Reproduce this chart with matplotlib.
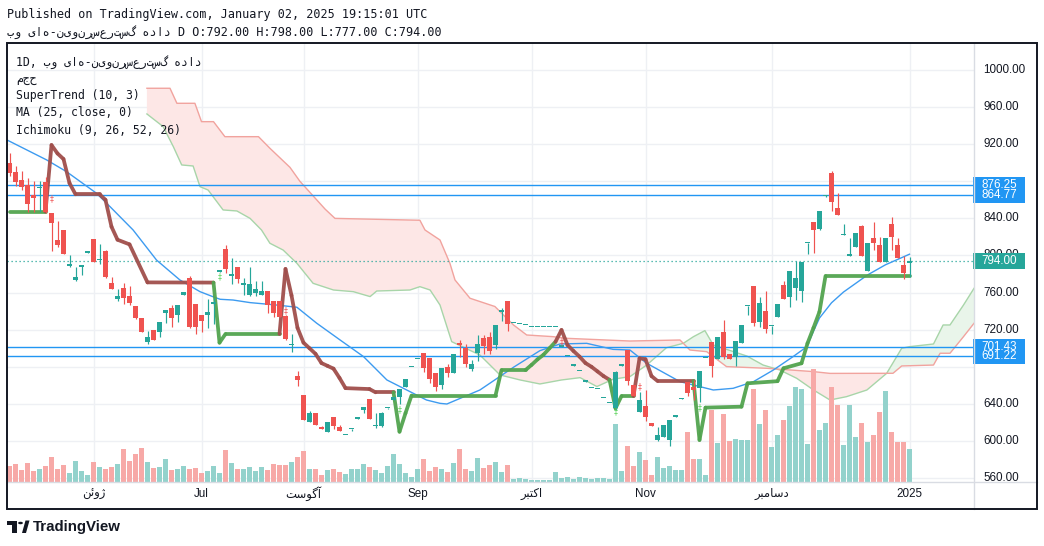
import numpy as np
import matplotlib
matplotlib.use("Agg")
import matplotlib.pyplot as plt
from matplotlib.patches import Rectangle, Circle, Polygon
from matplotlib.collections import LineCollection
import matplotlib.transforms as mtransforms

# ---------------- data ----------------
opens = [900, 890, 881, 876, 865, 872.5, 879, 846, 817, 828,
         789, 773.3, 788, 803, 818, 795, 805, 770, 752.8, 765,
         756.3, 746, 732.3, 707.2, 719.7, 717, 737.7, 743, 735.8, 757,
         775.4, 747.7, 736, 736, 748, 782.5, 807, 777.6, 787.3, 768,
         757, 759.3, 757.2, 761.3, 751, 751, 734.8, 703.5, 670.5, 649.6,
         620.9, 630.2, 615.1, 610.1, 625.6, 615.1, 606, 612.5, 624, 633.9,
         645, 616.2, 616.6, 635.3, 644.2, 647.9, 658.7, 679.8, 688.4, 694.9,
         689.3, 673.1, 660.4, 679.8, 673.7, 706, 700.3, 677.3, 695.3, 711.1,
         712.1, 703.9, 738.8, 750.9, 726.8, 725.7, 725, 722.6, 722.6, 722.6,
         722.6, 722.6, 701.7, 691.5, 681.3, 675, 664, 657, 655.7, 646,
         640.8, 635.3, 681.3, 698, 660.4, 631.6, 637.7, 619.4, 601.1, 604.7,
         601.1, 626.3, 645.3, 664, 657.9, 657.5, 689.3, 706.4, 688.4, 717.2,
         693.8, 690.3, 706, 745.6, 767.1, 728, 740.2, 724, 734, 768,
         755.7, 765.4, 761.7, 813, 836.1, 828.6, 864, 889.4, 851.6, 822.1,
         799.8, 809.6, 831.8, 783.7, 819.3, 811.3, 793.4, 834, 811.3, 789.8,
         792]
closes = [889, 879, 874, 855, 862, 874, 846.5, 835.5, 811, 802,
          789.5, 776.8, 788.5, 803.5, 793.4, 795.5, 777, 764.4, 756.3, 754.6,
          749.2, 732.3, 718, 711.8, 709, 728.7, 741, 732.3, 746.6, 760.4,
          723.2, 723.2, 729.8, 739.5, 749, 783.5, 785, 780, 774.7, 770,
          769, 763.5, 761.7, 746.3, 738.4, 734, 710.4, 704.3, 666.2, 622.6,
          630.6, 617.3, 613.3, 620.1, 616.3, 611.2, 606.5, 613, 624.5, 636.7,
          623.7, 616.8, 630.2, 635.8, 647.9, 656, 667, 680.3, 688.9, 678.4,
          667.3, 658.7, 679, 673.7, 693.8, 703.2, 683.4, 683, 704.3, 702.8,
          697, 725.1, 741.2, 725.7, 727, 725.9, 725.2, 722.8, 722.8, 722.8,
          722.8, 722.8, 702.8, 691.7, 681.5, 675.2, 664.2, 657.2, 655.9, 646.2,
          641, 674.5, 681.5, 664.7, 648.9, 644.2, 626.3, 616.6, 606.5, 617.3,
          622.6, 626.8, 645.8, 652.2, 655, 675.5, 689.8, 681.3, 711.8, 691,
          688, 707.5, 725.1, 746, 727.6, 748.5, 720.8, 724.5, 747.3, 753,
          783.3, 776.2, 793.4, 813.5, 827.5, 848, 864.5, 857.8, 843.7, 822.6,
          800.3, 824.7, 799.8, 813.9, 813.9, 793.4, 819.3, 820.3, 797.7, 780.8,
          794]
highs = [911, 896, 891, 884, 880, 880, 885, 846, 837, 828,
         800.5, 788, 788.5, 804, 818, 812.4, 806, 777, 764, 770,
         767, 746, 732.3, 718.9, 720, 728.7, 741, 746.6, 746.6, 760.4,
         778, 747.7, 736, 753, 753.7, 784, 811.3, 797, 787.3, 776,
         788, 773, 772, 761.3, 751, 751, 736, 715, 675.9, 649.6,
         632, 630.2, 616.5, 620.1, 625.6, 617, 606.5, 613, 624.5, 636.7,
         645, 630, 631.5, 636, 647.9, 656, 667, 680.3, 688.9, 694.9,
         689.3, 673.1, 679, 682.7, 693.8, 708.9, 704.6, 687.3, 714.3, 714.3,
         717.9, 725.1, 743, 750.9, 727, 725.9, 725.2, 722.8, 722.8, 722.8,
         722.8, 722.8, 704, 691.7, 681.5, 675.2, 664.2, 657.2, 655.9, 646.2,
         641, 675, 681.5, 698, 660.4, 653.3, 655, 619.4, 615.4, 617.3,
         622.6, 628, 646, 664, 666, 675.5, 689.8, 706.4, 711.8, 730.5,
         693.8, 707.5, 725.1, 746, 767.1, 755.7, 761.7, 724.5, 747.3, 772,
         783.3, 794, 793.4, 813.5, 836.1, 848, 865, 891, 867, 834,
         818.6, 824.7, 833, 813.9, 836.6, 820.3, 819.3, 841.9, 819.3, 799.8,
         798]
lows = [885.7, 875, 870.6, 847.3, 847.3, 847.3, 845.5, 805, 809.6, 802,
        788, 773, 779, 803, 793, 790.6, 776, 764, 750.7, 747.4,
        746.6, 732, 718, 704.6, 709, 712.5, 727, 723.3, 728.7, 757,
        721.5, 715, 717.9, 722, 725.8, 782, 781.5, 769.3, 770, 757.5,
        756, 756.3, 757.1, 738.4, 734, 734, 709, 695.6, 659.7, 622.6,
        620, 617.3, 613.3, 610, 612.9, 611.2, 606, 611, 624, 629.9,
        623.7, 614.5, 615.5, 635, 644, 639.9, 658.7, 679.8, 688.4, 674.1,
        662.9, 654.3, 656, 669, 673.7, 691, 679.5, 675.8, 686.6, 693.8,
        693.8, 699.2, 729.7, 719, 726.8, 725.7, 725, 722.6, 722.6, 722.6,
        722.6, 722.6, 701.7, 691.5, 681.3, 675, 664, 657, 655.7, 646,
        640.8, 633, 681.3, 660.4, 648.9, 631.6, 622, 616.6, 600.4, 604.7,
        594.9, 626, 645, 648.9, 644.2, 642.5, 689.3, 669.4, 688.4, 688.4,
        688, 681.3, 706, 735.9, 724.4, 723.2, 716.1, 715.4, 734, 753,
        744.8, 752, 750.3, 801.3, 803, 827.5, 863, 848.4, 843.7, 822,
        799.5, 809.6, 799.8, 783.7, 805.9, 793.4, 793.4, 805.9, 797.7, 774.7,
        777]
volumes = [42, 48, 30, 51, 27, 33, 42, 69, 33, 45, 21, 57, 27, 15, 54, 39, 33, 39, 48, 93,
           57, 78, 96, 54, 36, 39, 63, 30, 33, 42, 33, 36, 21, 27, 42, 21, 90,
           51, 33, 33, 39, 27, 39, 30, 48, 45, 45, 54, 69, 87, 33, 33, 15, 30, 33, 24, 18,
           33, 33, 48, 39, 30, 21, 42, 78, 48, 21, 9, 33, 63, 27, 39, 33, 24,
           50, 93, 33, 27, 66, 36, 45, 54, 24, 45, 3, 6, 3, 1, 1, 1, 1, 24, 6, 9,
           3, 9, 6, 3, 6, 6, 3, 168, 27, 102, 42, 84, 60, 15, 69, 36, 42, 30,
           30, 144, 63, 63, 15, 210, 111, 198, 117, 123, 120, 120, 273, 168, 210, 99,
           135, 180, 222, 279, 273, 108, 333, 150, 171, 279, 225, 105, 225, 129, 171,
           114, 135, 204, 267, 144, 114, 114, 93]

# SuperTrend (10, 3) vertices (bar index, value) and down-trend bar ranges
st_idx = [0, 6, 7, 8, 9, 10, 11, 15, 16, 17, 18, 20, 23, 34, 35, 36, 45, 46, 47, 48,
          49, 50, 51, 52, 53, 54, 55, 56, 60, 61, 64, 65, 66, 67, 81, 82, 86, 87, 88, 89,
          90, 91, 92, 93, 94, 95, 96, 97, 98, 99, 100, 101, 102, 104, 105, 106, 107, 108,
          114, 115, 116, 122, 123, 128, 129, 132, 133, 134, 135, 136, 150]
st_val = [847.3, 847.3, 919.1, 910, 904, 878, 866, 866, 860, 831, 817, 812, 771, 770.8,
          706, 715.4, 715.4, 785.5, 757, 722, 706, 700, 694, 684, 681, 678, 668, 657,
          656, 652.5, 652.5, 610, 630, 649, 649, 676.5, 676.5, 682, 688, 693, 700, 707,
          719.7, 703.5, 697, 691, 684, 680, 675, 670, 666, 635.3, 648.5, 648.5, 689.2,
          688.2, 670, 664.7, 664.7, 601.1, 636, 637, 662.2, 664.5, 678.4, 683.8, 705.3,
          722, 739.4, 777.9, 777.9]
st_down = [(7, 34), (46, 64), (92, 100), (105, 114)]
# SuperTrend buy/sell signal marks (bar index, price, kind)
sig_idx = [7, 35, 46, 65, 92, 101, 105, 115]
sig_val = [861.7, 777.3, 740.2, 633.4, 707.2, 631.7, 658.6, 636.0]
sig_kind = ["sell", "buy", "sell", "buy", "sell", "buy", "sell", "buy"]

# MA (25, close) vertices
ma_idx = [-0.4, 6.2, 9.5, 14.5, 16.75, 20.6, 24.5, 28.4, 31.75, 33.9, 35.1, 37.25, 40.1,
          44.5, 47.9, 51.2, 55.1, 59, 62.9, 66.2, 69.5, 71.75, 72.9, 78.4, 84, 88.4,
          91.75, 96.2, 100.6, 103.4, 106.2, 111.75, 117.3, 120.6, 124, 127.3, 130.6,
          132.9, 134, 135, 137, 139, 143, 146, 150]
ma_val = [924.5, 903, 890.4, 867.1, 852.7, 827.5, 795.1, 773.6, 761, 755.6, 752.8, 752,
          749.2, 746.6, 744.2, 727, 708.9, 691, 665.8, 655, 644.2, 640.6, 639.9, 655,
          679.5, 697.4, 704.6, 705.3, 698.8, 698.1, 683.8, 664, 655, 656.8, 664, 676.5,
          691, 701.7, 718.4, 732.6, 749, 760.6, 779, 790, 801.4]

# Ichimoku (9, 26, 52, 26) leading spans (shifted bar index, value)
spanA_idx = [22.9, 25.6, 27.3, 28.7, 30.6, 31.75, 33.1, 35.6, 37.9, 40.1, 42, 43.4, 45.6,
             47.9, 50.6, 54, 57.3, 60.1, 61.2, 66.75, 68.4, 70.1, 71.75, 73.7, 78.4,
             81.75, 85.1, 88.4, 92, 95.1, 97.9, 100.6, 103.4, 106.2, 109.5, 112.3, 114,
             115.9, 117.3, 122.9, 125.6, 128.4, 131.2, 134, 136.75, 139.5, 142.9, 146.2,
             148.7, 150, 154, 155.6, 156.75, 159, 160.75]
spanA_val = [952.6, 939, 917.4, 897.6, 896.5, 874.2, 870.6, 849.1, 848, 840, 827.5, 813.2,
             805.9, 791.6, 770, 762.8, 761, 755.7, 761.7, 762.8, 766.4, 762.8, 746.6,
             707.1, 692.7, 671.2, 665.8, 661.5, 665.8, 668.3, 658.7, 666.6, 669.4, 681.9,
             700.6, 705.3, 712.5, 719, 703.5, 691.6, 681.9, 676.5, 667.6, 655, 644.2,
             647.8, 655, 673, 700, 701.7, 704.6, 725.1, 725.1, 746.6, 764.6]
spanB_idx = [22.9, 26.75, 27.9, 30.9, 32, 34, 35.9, 41.5, 43.4, 46.75, 48.4, 52.6, 54.25,
             68.4, 69.25, 71.75, 73.4, 74.25, 76.75, 80.9, 84, 86.2, 90.6, 92.9, 103.4,
             111.75, 113.4, 116.2, 119.5, 126.2, 134, 136.75, 147.25, 148.7, 154, 155.1,
             156.75, 159, 160.75]
spanB_val = [980.3, 980.3, 964.1, 964.1, 944.3, 944.3, 928.1, 928.1, 915.6, 895, 880, 850,
             840, 838, 827.5, 816.7, 791.6, 773.6, 753.9, 745, 725.1, 714.3, 712.5, 710.7,
             707.8, 708.9, 698.1, 696.3, 680.2, 678.4, 674.8, 672.9, 673, 680.9, 681.9,
             694.6, 694.6, 712.5, 726.9]

hlines = [876.25, 864.77, 701.43, 691.22]
last_price = 794.00
price_ticks = [1000, 960, 920, 840, 800, 760, 720, 640, 600, 560]
grid_prices = [560, 600, 640, 680, 720, 760, 800, 840, 880, 920, 960, 1000]
month_idx = [14, 32, 49, 68, 87, 106, 127, 150]
month_lbl = ["\uFEE6\uFE8B\uFEED\uFB8A", "Jul", "\uFE96\uFEB3\uFEEE\uFB94\uFE81", "Sep",
             "\uFEAE\uFE92\uFE98\uFB90\uFE8D", "Nov",
             "\uFEAE\uFE92\uFEE3\uFE8E\uFEB3\uFEA9", "2025"]

symbol_vis = "بو یاه-نیونرسعرتسگ هداد"
header1 = "Published on TradingView.com, January 02, 2025 19:15:01 UTC"
header2 = symbol_vis + " D O:792.00 H:798.00 L:777.00 C:794.00"
legend_lines = ["1D, " + symbol_vis, "مجح", "SuperTrend (10, 3)", "MA (25, close, 0)",
                "Ichimoku (9, 26, 52, 26)"]

# ---------------- styling ----------------
TEAL = "#26A69A"; RED = "#EF5350"
TEAL_V = "#93D2CC"; RED_V = "#F7A9A7"
BLUE = "#2196F3"; TXT = "#131722"
MONO = ["DejaVu Sans Mono", "DejaVu Sans"]
SANS = ["Liberation Sans", "DejaVu Sans"]

W, H = 1044, 546
fig = plt.figure(figsize=(W / 100, H / 100), dpi=100)
fig.patch.set_facecolor("white")

L, R, T, B = 7, 974, 43, 482
rect = [L / W, 1 - B / H, (R - L) / W, (B - T) / H]
XMIN, XMAX = -0.417, 160.75
YMIN, YMAX = 555.8, 1029.1

ax_bg = fig.add_axes(rect)
ax_vol = fig.add_axes(rect)
ax = fig.add_axes(rect)
for a in (ax_bg, ax_vol, ax):
    a.set_xlim(XMIN, XMAX)
    a.axis("off")
ax_bg.set_ylim(YMIN, YMAX)
ax.set_ylim(YMIN, YMAX)
ax_vol.set_ylim(-6, 1311)

# grid
for t in month_idx:
    ax_bg.axvline(t, color="#EEF0F4", lw=1.0, zorder=0)
for p in grid_prices:
    ax_bg.axhline(p, color="#EEF0F4", lw=1.0, zorder=0)

# Ichimoku cloud
xs = np.linspace(min(spanA_idx), XMAX + 1, 3000)
sa = np.interp(xs, spanA_idx, spanA_val)
sb = np.interp(xs, spanB_idx, spanB_val)
ax_bg.fill_between(xs, sa, sb, where=sa >= sb, interpolate=True, color="#E9F5EA", lw=0, zorder=1)
ax_bg.fill_between(xs, sa, sb, where=sa < sb, interpolate=True, color="#FDE7E6", lw=0, zorder=1)
ax_bg.plot(spanA_idx, spanA_val, color="#A8D5A9", lw=1.0, zorder=2)
ax_bg.plot(spanB_idx, spanB_val, color="#F1A39E", lw=1.0, zorder=2)

# volume
n = len(closes)
x = np.arange(n)
o = np.array(opens); c = np.array(closes); hi = np.array(highs); lo = np.array(lows)
up = c >= o
vol = np.array(volumes, dtype=float)
ax_vol.bar(x, vol + 6, bottom=-6, width=0.72, color=np.where(up, TEAL_V, RED_V), lw=0, zorder=1)

# horizontal lines
for hv in hlines:
    ax.axhline(hv, color=BLUE, lw=1.0, zorder=2)
ax.axhline(last_price, color=TEAL, lw=0.9, ls=(0, (1, 2.2)), zorder=2)

# MA
ax.plot(ma_idx, ma_val, color="#3D9BF0", lw=1.0, zorder=3)

# SuperTrend
def is_down(i):
    return any(a <= i <= b for a, b in st_down)
segs, cols = [], []
for k in range(len(st_idx) - 1):
    segs.append([(st_idx[k], st_val[k]), (st_idx[k + 1], st_val[k + 1])])
    cols.append("#A04F4C" if is_down(st_idx[k + 1]) else "#52A44F")
ax.add_collection(LineCollection(segs, colors=cols, linewidths=2.7, capstyle="round",
                                 joinstyle="round", alpha=0.95, zorder=4))
for si, sv, sk in zip(sig_idx, sig_val, sig_kind):
    ax.text(si, sv, "\u2021", ha="center", va="center", fontsize=5.5,
            color="#F05A5A" if sk == "sell" else "#5FD35F", family="DejaVu Sans", zorder=7)

# candles
ccol = np.where(up, TEAL, RED)
ax.vlines(x, lo, hi, colors=ccol, lw=0.85, zorder=5)
body_h = np.maximum(np.abs(c - o), 1.4)
ax.bar(x, body_h, bottom=np.minimum(o, c), width=0.7, color=ccol, lw=0, zorder=6)

# ---------------- axes decoration ----------------
trans = mtransforms.blended_transform_factory(fig.transFigure, ax.transData)
for p in price_ticks:
    ax.text(983 / W, p, f"{p:.2f}", transform=trans, ha="left", va="center",
            fontsize=8.4, color=TXT, family=SANS, clip_on=False, zorder=10)

box_h = 17.2
def price_box(p, fc):
    ax.add_patch(Rectangle((973 / W, p - box_h / 2), 52 / W, box_h, transform=trans,
                           fc=fc, ec="none", clip_on=False, zorder=11))
    ax.text(999 / W, p, f"{p:.2f}", transform=trans, ha="center", va="center",
            fontsize=8.4, color="white", family=SANS, clip_on=False, zorder=12)

for hv in hlines:
    price_box(hv, BLUE)
price_box(last_price, TEAL)

# cover below time-axis separator in price scale
fig.add_artist(Rectangle((974 / W, 1 - 508 / H), 62 / W, 26 / H, transform=fig.transFigure,
                         fc="white", ec="none", zorder=20))
# separators and frame
fig.add_artist(plt.Line2D([L / W, 1037 / W], [1 - B / H, 1 - B / H], transform=fig.transFigure,
                          color="#D9DCE3", lw=1.0, zorder=21))
fig.add_artist(plt.Line2D([R / W, R / W], [1 - 43 / H, 1 - 509 / H], transform=fig.transFigure,
                          color="#D9DCE3", lw=1.0, zorder=21))
fig.add_artist(Rectangle((L / W, 1 - 509 / H), (1037 - L) / W, (509 - 43) / H,
                         transform=fig.transFigure, fill=False, ec=TXT, lw=1.4, zorder=22))

# time labels
for t, lbl in zip(month_idx, month_lbl):
    xp = 9.5 + 6 * t
    fig.text(xp / W, 1 - 494 / H, lbl, ha="center", va="center", fontsize=8.4,
             color=TXT, family=SANS + ["DejaVu Sans"], zorder=23)

# header
fig.text(7 / W, 1 - 14.5 / H, header1, ha="left", va="center", fontsize=8.5, color=TXT,
         family=MONO)
fig.text(7 / W, 1 - 31.5 / H, header2, ha="left", va="center", fontsize=8.5, color=TXT,
         family=MONO)

# legend
for k, line in enumerate(legend_lines):
    fig.text(16 / W, 1 - (62 + 17 * k) / H, line, ha="left", va="center", fontsize=8.3,
             color=TXT, family=MONO, zorder=24)

# TradingView logo
logo = "#131722"
fig.add_artist(Rectangle((7 / W, 1 - 525 / H), 10 / W, 4.5 / H, transform=fig.transFigure,
                         fc=logo, ec="none"))
fig.add_artist(Rectangle((11.5 / W, 1 - 533 / H), 5.5 / W, 12 / H, transform=fig.transFigure,
                         fc=logo, ec="none"))
fig.add_artist(Circle((20.5 / W, 1 - 523 / H), 2.4 / W, transform=fig.transFigure,
                      fc=logo, ec="none"))
fig.add_artist(Polygon([(22 / W, 1 - 533 / H), (25.5 / W, 1 - 520.5 / H),
                        (29.5 / W, 1 - 520.5 / H), (26 / W, 1 - 533 / H)],
                       closed=True, transform=fig.transFigure, fc=logo, ec="none"))
fig.text(33 / W, 1 - 527 / H, "TradingView", ha="left", va="center", fontsize=10.8,
         fontweight="bold", color=logo, family=SANS)

fig.savefig("out.png", dpi=100, facecolor="white")
